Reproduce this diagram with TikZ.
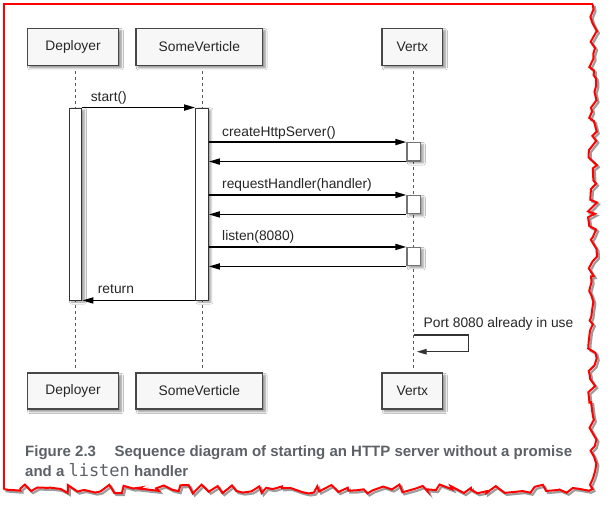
\documentclass[tikz,border=0pt]{standalone}
\usepackage{fontspec}
\setmainfont{Liberation Sans}
\setmonofont{DejaVu Sans Mono}
\usetikzlibrary{arrows.meta,shadows,shadows.blur,decorations.pathmorphing}
\definecolor{capgray}{RGB}{92,97,104}
\begin{document}
\begin{tikzpicture}[x=1pt,y=-1pt,
  objbox/.style={draw=black!72, line width=1.1pt, fill=black!3, inner sep=0pt, minimum height=37pt,
    font=\fontsize{13.8}{16}\selectfont, text=black!85,
    blur shadow={shadow xshift=2.5pt, shadow yshift=-2.5pt, shadow blur steps=6, shadow opacity=45}},
  actbar/.style={draw=black!80, line width=0.9pt, fill=white, inner sep=0pt, minimum width=12.7pt,
    blur shadow={shadow xshift=2.5pt, shadow yshift=-2pt, shadow blur steps=6, shadow opacity=40}},
  actbox/.style={draw=black!55, line width=1.2pt, fill=white, inner sep=0pt, minimum width=13.7pt, minimum height=18.3pt,
    blur shadow={shadow xshift=2.5pt, shadow yshift=-2pt, shadow blur steps=6, shadow opacity=40}},
  lifeline/.style={draw=black!65, line width=0.9pt, dash pattern=on 3pt off 3pt},
  msgline/.style={line width=1.6pt, draw=black, -{Triangle[length=11pt,width=6pt]}},
  selfmsg/.style={line width=1.3pt, draw=black!80, -{Triangle[length=10pt,width=5.5pt]}},
  msglbl/.style={anchor=west, inner sep=0pt, font=\fontsize{13.8}{16}\selectfont, text=black!85},
  captxt/.style={anchor=base west, inner sep=0pt, font=\fontsize{15}{18}\selectfont\bfseries, text=capgray},
  redframe/.style={line width=2pt, draw=red},
  tornedge/.style={decorate, decoration={random steps, segment length=6pt, amplitude=4.5pt}}
]
\useasboundingbox (0,0) rectangle (609,504);
\fill[white] (0,0) rectangle (609,504);

% torn red frame
\pgfmathsetseed{7}
\draw[line width=2.2pt, draw=black!70, opacity=0.55, tornedge] (594.5,6) -- (594.5,491) -- (5.5,491);
\pgfmathsetseed{7}
\draw[redframe, tornedge] (592.5,4) -- (592.5,489) -- (3.5,489);
\draw[redframe] (592.5,4) -- (3.5,4) -- (3.5,489);

% participants
\node[objbox, minimum width=91.4pt] (dtop) at (73,46.8) {Deployer};
\node[objbox, minimum width=126.6pt] (stop) at (199.3,46.8) {SomeVerticle};
\node[objbox, minimum width=60.7pt] (vtop) at (412.3,46.8) {Vertx};
\node[objbox, minimum width=91.4pt, minimum height=36pt] (dbot) at (73,391) {Deployer};
\node[objbox, minimum width=126.6pt, minimum height=36pt] (sbot) at (199.3,391) {SomeVerticle};
\node[objbox, minimum width=60.7pt, minimum height=36pt] (vbot) at (412.3,391) {Vertx};

% anchors for lifelines
\coordinate (dl) at (75.5,204);
\coordinate (sl) at (202,204);
\coordinate (vl) at (413.8,204);

% lifelines
\draw[lifeline, shorten <=5pt, shorten >=2pt] (dtop.south -| dl) -- (dbot.north -| dl);
\draw[lifeline, shorten <=5pt, shorten >=2pt] (stop.south -| sl) -- (sbot.north -| sl);
\draw[lifeline, shorten <=5pt, shorten >=2pt] (vtop.south -| vl) -- (vbot.north -| vl);

% activation bars
\node[actbar, minimum height=192pt] (dbar) at (dl) {};
\node[actbar, minimum height=192pt] (sbar) at (sl) {};
\node[actbox] (v1) at (vl |- 0,151.8) {};
\node[actbox] (v2) at (vl |- 0,204.7) {};
\node[actbox] (v3) at (vl |- 0,256.7) {};

% messages
\draw[msgline] (dbar.north east) -- (sbar.north west);
\node[msglbl] (lstart) at (90.6,98) {start()};

\draw[msgline] (sbar.east |- v1.north) -- (v1.north west);
\draw[msgline] (v1.south west) -- (sbar.east |- v1.south);
\node[msglbl] (lcreate) at (222,133.3) {createHttpServer()};

\draw[msgline] (sbar.east |- v2.north) -- (v2.north west);
\draw[msgline] (v2.south west) -- (sbar.east |- v2.south);
\node[msglbl] (lreq) at (222,185) {requestHandler(handler)};

\draw[msgline] (sbar.east |- v3.north) -- (v3.north west);
\draw[msgline] (v3.south west) -- (sbar.east |- v3.south);
\node[msglbl] (llisten) at (222,236.7) {listen(8080)};

\draw[msgline] (sbar.south west) -- (dbar.south east);
\node[msglbl] (lret) at (97.7,289.3) {return};

% self message
\coordinate (pa) at (vl |- 0,335);
\coordinate (pc) at (468.7,335);
\coordinate (pb) at (416.7,351.7);
\draw[selfmsg] (pa) -- (pc) |- (pb);
\node[msglbl] (lport) at (423.5,324) {Port 8080 already in use};

% caption
\node[captxt] (fig) at (25,456.7) {Figure 2.3};
\node[captxt] (c1) at (114.3,456.7) {Sequence diagram of starting an HTTP server without a promise};
\node[captxt] (c2) at (25,476) {and a {\fontsize{17}{20}\selectfont\mdseries\ttfamily listen} handler};
\end{tikzpicture}
\end{document}
